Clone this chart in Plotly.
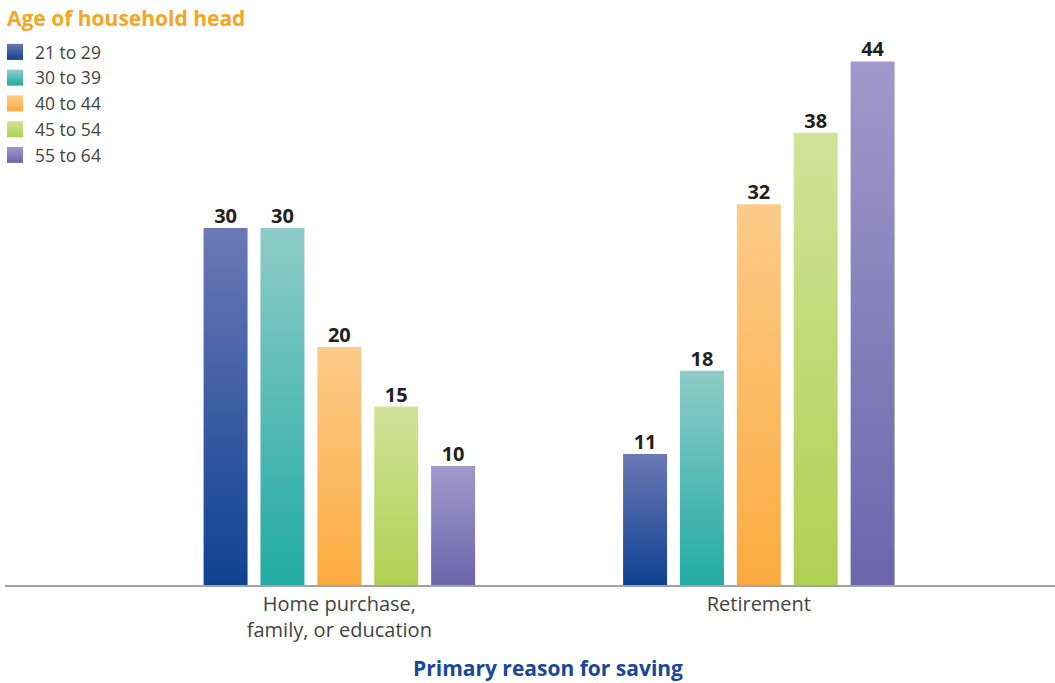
import plotly.graph_objects as go

# Savings motive by age of household head (percent)
categories = ["Home purchase,<br>family, or education", "Retirement"]
age_groups = ["21 to 29", "30 to 39", "40 to 44", "45 to 54", "55 to 64"]
share_21_29 = [30, 11]
share_30_39 = [30, 18]
share_40_44 = [20, 32]
share_45_54 = [15, 38]
share_55_64 = [10, 44]
series_values = [share_21_29, share_30_39, share_40_44, share_45_54, share_55_64]

# gradient colours per age group: (bottom, top)
bottom_colors = ["#0e4291", "#22aba5", "#fbab3e", "#afd152", "#6d65ab"]
top_colors = ["#6c78b6", "#8ecbc7", "#fdcb8a", "#d0e39a", "#a199ca"]

# bar geometry in category units
group_width = 0.678
n_series = len(age_groups)
slot = group_width / n_series
bar_width = slot * 0.773

FONT = "Open Sans"

fig = go.Figure()


def bar_center(group_idx, series_idx):
    return group_idx - group_width / 2 + slot * (series_idx + 0.5)


# each bar is its own filled shape so the gradient spans that bar's height
for i, (name, vals) in enumerate(zip(age_groups, series_values)):
    for g, v in enumerate(vals):
        c = bar_center(g, i)
        left, right = c - bar_width / 2, c + bar_width / 2
        fig.add_trace(go.Scatter(
            x=[left, right, right, left, left], y=[0, 0, v, v, 0],
            name=name, legendgroup=name, showlegend=False,
            mode="lines", fill="toself",
            line=dict(width=0, color=bottom_colors[i]),
            fillcolor=bottom_colors[i],
            fillgradient=dict(type="vertical",
                              colorscale=[[0, bottom_colors[i]], [1, top_colors[i]]]),
            hoverinfo="skip",
        ))

# legend swatches
for i, name in enumerate(age_groups):
    fig.add_trace(go.Scatter(
        x=[None], y=[None], mode="markers", name=name, legendgroup=name,
        marker=dict(symbol="square", size=20, color=top_colors[i],
                    gradient=dict(type="vertical", color=bottom_colors[i]),
                    line=dict(width=0)),
    ))

# value labels above each bar
for i, vals in enumerate(series_values):
    fig.add_trace(go.Scatter(
        x=[bar_center(g, i) for g in range(len(vals))], y=vals,
        mode="text", text=[str(v) for v in vals],
        textposition="top center", showlegend=False,
        textfont=dict(family=FONT, size=20, color="#231f20", weight="bold"),
        hovertemplate="%{y}<extra>" + age_groups[i] + "</extra>",
    ))

fig.update_layout(
    width=1055, height=683,
    margin=dict(l=5, r=0, t=40, b=98, autoexpand=False),
    paper_bgcolor="white", plot_bgcolor="white",
    font=dict(family=FONT, color="#444444"),
    showlegend=True,
    legend=dict(
        xref="paper", yref="container", x=-10 / 1050, y=1 - 34 / 683,
        xanchor="left", yanchor="top",
        font=dict(family=FONT, size=17.5, color="#444444"),
        bgcolor="rgba(0,0,0,0)", itemsizing="trace",
        tracegroupgap=0,
    ),
    xaxis=dict(
        range=[-0.797, 1.706], tickvals=[0, 1], ticktext=categories,
        showgrid=False, zeroline=False, showline=True,
        linecolor="#a3a3a3", linewidth=2, ticks="",
        tickfont=dict(family=FONT, size=20, color="#444444"),
        fixedrange=True,
    ),
    yaxis=dict(range=[0, 45.8], visible=False, fixedrange=True),
    annotations=[
        dict(text="<b>Primary reason for saving</b>", xref="paper", yref="paper",
             x=0.517, y=-0.152, xanchor="center", yanchor="middle", showarrow=False,
             font=dict(family=FONT, size=21, color="#17479e")),
        dict(text="<b>Age of household head</b>", xref="paper", yref="paper",
             x=0, y=1 + (40 - 18) / 545, xanchor="left", yanchor="middle",
             showarrow=False, font=dict(family=FONT, size=21, color="#f7a521")),
    ],
)

fig.write_html("out.html")
